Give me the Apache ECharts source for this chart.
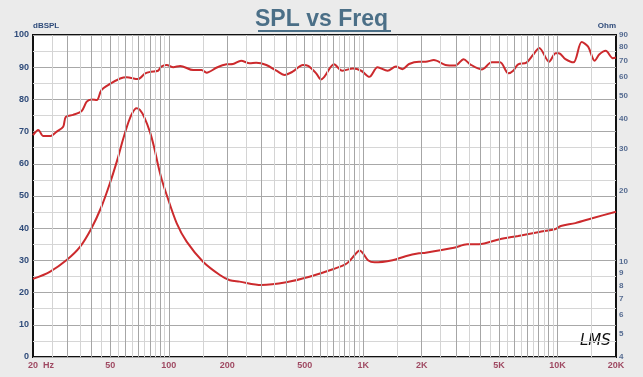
<!DOCTYPE html>
<html>
<head>
<meta charset="utf-8">
<script src="https://cdn.jsdelivr.net/npm/echarts@6/dist/echarts.min.js"></script>
<style>
  html, body { margin: 0; padding: 0; background: #ebebeb; }
  #chart { width: 643px; height: 377px; }
</style>
</head>
<body>
<div id="chart"></div>
<script>
// SPL response (left axis, dB)
const splFreq = [
  20, 21.3, 22.6, 24.4, 26.5, 28.6, 29.5, 32.2, 35.6, 37.8,
  40, 42.6, 45, 49.8, 56.2, 60.6, 69.4, 75.6, 81, 88,
  91.5, 97.4, 105.5, 114.4, 133.4, 147.3, 156.4, 176.7, 197.9, 213.8,
  235.3, 260.6, 281.4, 317.5, 357.7, 393.8, 433.5, 490, 521, 573,
  606, 631, 708, 781, 886, 977, 1076, 1186, 1336, 1474,
  1594, 1723, 1938, 2096, 2310, 2649, 2983, 3287, 3553, 4075,
  4589, 5065, 5585, 5918, 6276, 6919, 7479, 8057, 9052, 9781,
  10160, 10985, 12090, 13310, 14370, 15520, 16440, 17700, 19260, 20000
];
const splDb = [
  68.9, 70.5, 68.6, 68.6, 70.0, 71.5, 74.6, 75.2, 76.4, 79.3,
  80.0, 79.8, 82.9, 84.8, 86.5, 86.9, 86.3, 88.1, 88.6, 88.9,
  90.2, 90.7, 90.0, 90.4, 89.1, 89.1, 88.3, 89.9, 90.9, 91.0,
  92.0, 91.2, 91.4, 90.7, 88.9, 87.6, 88.6, 90.7, 90.4, 88.1,
  86.2, 87.0, 90.9, 88.9, 89.6, 88.9, 87.0, 90.0, 88.9, 90.2,
  89.4, 91.0, 91.7, 91.7, 92.2, 90.7, 90.5, 92.5, 90.9, 89.3,
  91.5, 91.5, 88.1, 88.9, 90.9, 91.4, 93.8, 96.0, 91.7, 94.3,
  94.3, 92.5, 91.5, 97.8, 96.4, 92.0, 94.0, 95.1, 92.8, 93.0
];

// impedance (right axis, ohm)
const impFreq = [
  20, 24.4, 29.8, 34.9, 40, 45, 49.7, 54.6, 58, 62,
  65, 68, 71, 75, 80, 84, 88, 92, 97.4, 109.7, 123.5,
  150, 183, 206, 231, 299, 402, 529, 698, 823, 902,
  958, 998, 1059, 1144, 1415, 1652, 1938, 2096, 2933, 3430,
  3943, 5040, 6276, 8057, 9781, 10400, 12360, 15090, 20000
];
const impOhm = [
  8.51, 9.12, 10.22, 11.6, 13.9, 17.1, 21.4, 27.3, 32.6, 38.8,
  42.4, 44.3, 43.6, 40.4, 35.2, 30.4, 25.6, 22.2, 19.2, 14.6, 12.2,
  10.05, 8.84, 8.4, 8.29, 8.03, 8.24, 8.69, 9.34, 9.88, 10.7,
  11.2, 10.9, 10.2, 9.99, 10.2, 10.6, 10.9, 10.96, 11.5, 11.9,
  11.9, 12.5, 12.9, 13.4, 13.8, 14.2, 14.6, 15.3, 16.3
];

// tick labels
const xTickFreqs = [20, 50, 100, 200, 500, 1000, 2000, 5000, 10000, 20000];
const xTickLabels = ['20  Hz', '50', '100', '200', '500', '1K', '2K', '5K', '10K', '20K'];
const ohmTicks = [4, 5, 6, 7, 8, 9, 10, 20, 30, 40, 50, 60, 70, 80, 90];

// vertical grid lines
const gridMajorFreqs = [
  30, 40, 50, 60, 70, 80, 90, 100,
  200, 300, 400, 500, 600, 700, 800, 900, 1000,
  2000, 3000, 4000, 5000, 6000, 7000, 8000, 9000, 10000
];
const gridMinorFreqs = [
  25, 35, 45, 55, 65, 75, 85, 95,
  150, 250, 350, 450, 550, 650, 750, 850, 950,
  1500, 2500, 3500, 4500, 5500, 6500, 7500, 8500, 9500, 15000
];

const blueText = '#2f4b7a';
const redText = '#8c2040';
const curveColor = '#cc2a2d';

const zip = (a, b) => a.map((v, i) => [v, b[i]]);

const gridLines = (freqs, color) => ({
  type: 'line',
  data: [],
  z: 1,
  silent: true,
  markLine: {
    silent: true,
    symbol: ['none', 'none'],
    label: { show: false },
    animation: false,
    lineStyle: { color: color, width: 1, type: 'solid' },
    data: freqs.map((f) => ({ xAxis: f })),
  },
});

const option = {
  backgroundColor: '#ebebeb',
  animation: false,
  textStyle: { fontFamily: 'Liberation Sans, Arial, sans-serif' },
  title: {
    text: 'SPL vs Freq',
    left: 'center',
    top: 3,
    textStyle: {
      fontSize: 23,
      fontWeight: 'bold',
      color: '#4b6f87',
      fontFamily: 'Liberation Sans, Arial, sans-serif',
    },
  },
  graphic: [
    {
      // title underline
      type: 'rect',
      shape: { x: 258, y: 30, width: 133, height: 2 },
      style: { fill: '#4b6f87' },
      silent: true,
    },
    {
      type: 'text',
      left: 580,
      top: 334,
      style: {
        text: 'LMS',
        font: 'italic 15px "DejaVu Sans"',
        fill: '#111',
      },
      silent: true,
    },
  ],
  grid: {
    left: 33,
    right: 27,
    top: 35,
    bottom: 20,
    show: true,
    backgroundColor: '#ffffff',
    borderColor: '#111',
    borderWidth: 2,
  },
  xAxis: {
    type: 'log',
    logBase: 10,
    min: 20,
    max: 20000,
    axisLine: { show: false },
    axisTick: { show: false },
    axisLabel: { show: false },
    splitLine: { show: false },
  },
  yAxis: [
    {
      type: 'value',
      min: 0,
      max: 100,
      interval: 10,
      name: 'dBSPL',
      nameLocation: 'end',
      nameGap: 5,
      nameTextStyle: { align: 'left', fontSize: 8, fontWeight: 'bold', color: blueText },
      axisLine: { show: false },
      axisTick: { show: false },
      axisLabel: { margin: 4, fontSize: 9, fontWeight: 'bold', color: blueText },
      splitLine: { lineStyle: { color: '#a8a8a8', width: 1 } },
      minorTick: { show: false, splitNumber: 2 },
      minorSplitLine: { show: true, lineStyle: { color: '#d6d6d6', width: 1 } },
    },
    {
      type: 'log',
      logBase: 10,
      min: 4,
      max: 90,
      name: 'Ohm',
      nameLocation: 'end',
      nameGap: 5,
      nameTextStyle: { align: 'right', fontSize: 8, fontWeight: 'bold', color: blueText },
      axisLine: { show: false },
      axisTick: { show: false },
      axisLabel: { show: false },
      splitLine: { show: false },
    },
  ],
  series: [
    gridLines(gridMinorFreqs, '#d4d4d4'),
    gridLines(gridMajorFreqs, '#a6a6a6'),
    {
      name: 'SPL',
      type: 'line',
      yAxisIndex: 0,
      data: zip(splFreq, splDb),
      smooth: 0.3,
      showSymbol: false,
      z: 3,
      lineStyle: { color: curveColor, width: 2 },
    },
    {
      name: 'Impedance',
      type: 'line',
      yAxisIndex: 1,
      data: zip(impFreq, impOhm),
      smooth: 0.3,
      showSymbol: false,
      z: 3,
      lineStyle: { color: curveColor, width: 2 },
    },
    {
      // frequency tick labels
      type: 'scatter',
      yAxisIndex: 0,
      symbolSize: 0,
      clip: false,
      silent: true,
      data: xTickFreqs.map((f, i) => ({
        value: [f, 0],
        label: i === 0 ? { align: 'left', offset: [-5, 0] } : {},
      })),
      label: {
        show: true,
        position: 'bottom',
        distance: 4,
        fontSize: 9,
        fontWeight: 'bold',
        color: redText,
        formatter: (p) => xTickLabels[p.dataIndex],
      },
    },
    {
      // ohm tick labels
      type: 'scatter',
      yAxisIndex: 1,
      symbolSize: 0,
      clip: false,
      silent: true,
      data: ohmTicks.map((v) => [20000, v]),
      label: {
        show: true,
        position: 'right',
        distance: 3,
        fontSize: 8,
        fontWeight: 'bold',
        color: blueText,
        formatter: (p) => String(p.value[1]),
      },
    },
  ],
};

const myChart = echarts.init(document.getElementById('chart'));
myChart.setOption(option);
</script>
</body>
</html>
